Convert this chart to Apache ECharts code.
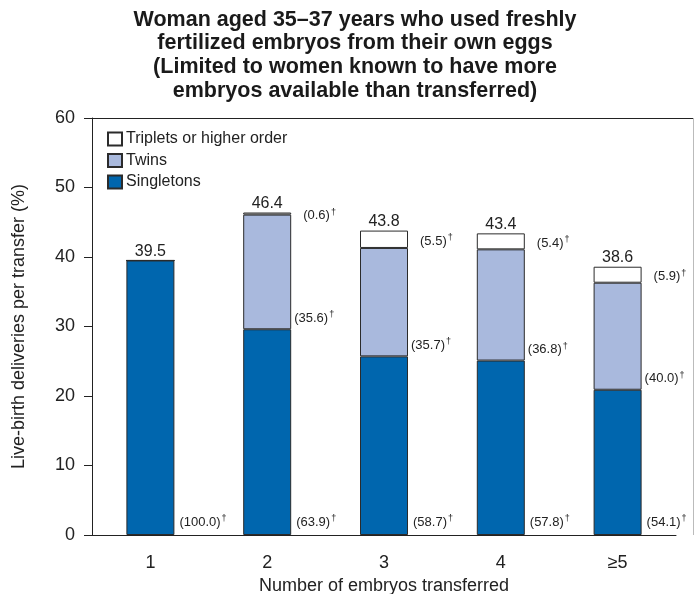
<!DOCTYPE html>
<html>
<head>
<meta charset="utf-8">
<script src="https://cdn.jsdelivr.net/npm/echarts@6/dist/echarts.min.js"></script>
<style>html,body{margin:0;padding:0;background:#fff;}#c{width:694px;height:594px;}</style>
</head>
<body>
<div id="c"></div>
<script>
var categories = ['1', '2', '3', '4', '≥5'];
var singletons = [39.5, 29.6, 25.7, 25.1, 20.9];
var twins = [0, 16.5, 15.6, 16.0, 15.4];
var triplets = [0, 0.3, 2.5, 2.3, 2.3];
var totals = [39.5, 46.4, 43.8, 43.4, 38.6];
var singletonsPct = [100.0, 63.9, 58.7, 57.8, 54.1];
var twinsPct = [null, 35.6, 35.7, 36.8, 40.0];
var tripletsPct = [null, 0.6, 5.5, 5.4, 5.9];
var yTicks = [0, 10, 20, 30, 40, 50, 60];

var FONT = '"Liberation Sans", Arial, Helvetica, sans-serif';
var rich = {
  a: { fontSize: 13, color: '#222', fontFamily: FONT, lineHeight: 16 },
  s: { fontSize: 9, color: '#222', fontFamily: FONT, verticalAlign: 'top', lineHeight: 16, padding: [0, 0, 5, 1] }
};
function pctFmt(arr) {
  return function (p) {
    var v = arr[p.dataIndex];
    if (v === null || v === undefined) return '';
    return '{a|(' + v.toFixed(1) + ')}{s|†}';
  };
}
var border = { borderColor: '#2b2b2b', borderWidth: 1 };

var chart = echarts.init(document.getElementById('c'), null, { renderer: 'canvas' });
chart.setOption({
  animation: false,
  backgroundColor: '#fff',
  textStyle: { fontFamily: FONT },
  title: {
    text: 'Woman aged 35–37 years who used freshly\nfertilized embryos from their own eggs\n(Limited to women known to have more\nembryos available than transferred)',
    left: 350, top: 3, textAlign: 'center',
    textStyle: { fontFamily: FONT, fontWeight: 'bold', fontSize: 21.5, lineHeight: 23.7, color: '#1a1a1a' }
  },
  legend: {
    data: ['Triplets or higher order', 'Twins', 'Singletons'],
    orient: 'vertical', left: 102, top: 126, icon: 'rect',
    itemWidth: 14, itemHeight: 13, itemGap: 5.5,
    textStyle: { fontFamily: FONT, fontSize: 16, color: '#222', padding: [0, 0, 0, -1] },
    selectedMode: false
  },
  grid: { left: 92, right: 18, top: 118, bottom: 59, containLabel: false, outerBoundsMode: 'none' },
  xAxis: {
    type: 'category', data: categories,
    axisLine: { lineStyle: { color: '#222', width: 1 } },
    axisTick: { alignWithLabel: true, length: 8, lineStyle: { color: '#222' } },
    axisLabel: { fontSize: 18, color: '#222', margin: 19, fontFamily: FONT },
    name: 'Number of embryos transferred', nameLocation: 'middle', nameGap: 42,
    nameTextStyle: { fontSize: 18, color: '#222', fontFamily: FONT }
  },
  yAxis: {
    type: 'value', min: yTicks[0], max: yTicks[yTicks.length - 1], interval: 10,
    axisLine: { show: true, lineStyle: { color: '#222', width: 1 } },
    axisTick: { show: true, length: 8, lineStyle: { color: '#222' } },
    axisLabel: { fontSize: 18, color: '#222', margin: 17, fontFamily: FONT },
    splitLine: { show: false },
    name: 'Live-birth deliveries per transfer (%)', nameLocation: 'middle', nameGap: 64,
    nameTextStyle: { fontSize: 18, color: '#222', fontFamily: FONT }
  },
  graphic: [
    { type: 'line', shape: { x1: 92, y1: 118.5, x2: 694, y2: 118.5 }, style: { stroke: '#222', lineWidth: 1 }, silent: true },
    { type: 'line', shape: { x1: 693.5, y1: 118, x2: 693.5, y2: 535 }, style: { stroke: '#bbb', lineWidth: 1 }, silent: true }
  ],
  series: [
    {
      name: 'Singletons', type: 'bar', stack: 's', barWidth: 48, data: singletons,
      itemStyle: Object.assign({ color: '#0066ae' }, border),
      label: { show: true, position: ['100%', '100%'], align: 'left', verticalAlign: 'bottom', offset: [5, -5], formatter: pctFmt(singletonsPct), rich: rich }
    },
    {
      name: 'Twins', type: 'bar', stack: 's', barWidth: 48, data: twins,
      itemStyle: Object.assign({ color: '#a9b9dd' }, border),
      label: { show: true, position: ['100%', '100%'], align: 'left', verticalAlign: 'bottom', offset: [3, -3], formatter: pctFmt(twinsPct), rich: rich }
    },
    {
      name: 'Triplets or higher order', type: 'bar', stack: 's', barWidth: 48, data: triplets,
      itemStyle: Object.assign({ color: '#ffffff' }, border),
      label: { show: true, position: 'right', distance: 12, offset: [0, 2], formatter: pctFmt(tripletsPct), rich: rich }
    },
    {
      name: 'Total', type: 'bar', stack: 's', barWidth: 48,
      data: totals.map(function () { return 0; }),
      itemStyle: { color: 'transparent', borderWidth: 0 },
      label: {
        show: true, position: 'top', distance: 1, fontSize: 16, color: '#222', fontFamily: FONT,
        formatter: function (p) { return totals[p.dataIndex].toFixed(1); }
      }
    }
  ]
});
</script>
</body>
</html>
